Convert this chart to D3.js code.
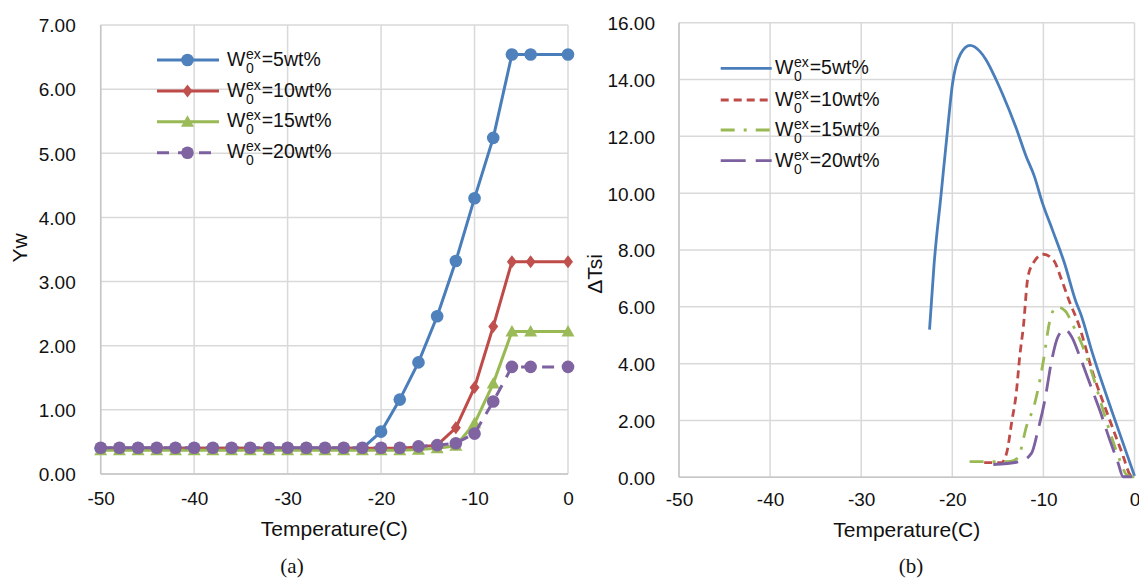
<!DOCTYPE html>
<html>
<head>
<meta charset="utf-8">
<script src="https://cdn.jsdelivr.net/npm/d3@7/dist/d3.min.js"></script>
<style>
    body { margin: 0; background: #fff; }
    svg text { font-family: "Liberation Sans", Arial, sans-serif; fill: #111; }
    .tick-label { font-size: 19px; }
    .axis-title { font-size: 21px; }
    .legend-text { font-size: 19.5px; }
    .legend-small { font-size: 14px; }
    .caption { font-family: "Liberation Serif", "Times New Roman", serif !important; font-size: 21px; }
</style>
</head>
<body>
<div id="chart"></div>
<script>

// ---------- shared axis data ----------
const xTicks = [-50, -40, -30, -20, -10, 0];
const xTickLabels = ["-50", "-40", "-30", "-20", "-10", "0"];

// ---------- panel (a): Yw ----------
const tempA = [-50, -48, -46, -44, -42, -40, -38, -36, -34, -32, -30, -28, -26, -24, -22,
               -20, -18, -16, -14, -12, -10, -8, -6, -4, 0];
const yw5  = [0.40, 0.40, 0.40, 0.40, 0.40, 0.40, 0.40, 0.40, 0.40, 0.40, 0.40, 0.40, 0.40, 0.40, 0.40,
              0.66, 1.16, 1.74, 2.46, 3.32, 4.30, 5.24, 6.54, 6.54, 6.54];
const yw10 = [0.40, 0.40, 0.40, 0.40, 0.40, 0.40, 0.40, 0.40, 0.40, 0.40, 0.40, 0.40, 0.40, 0.40, 0.40,
              0.40, 0.40, 0.42, 0.45, 0.72, 1.35, 2.30, 3.31, 3.31, 3.31];
const yw15 = [0.37, 0.37, 0.37, 0.37, 0.37, 0.37, 0.37, 0.37, 0.37, 0.37, 0.37, 0.37, 0.37, 0.37, 0.37,
              0.37, 0.37, 0.38, 0.40, 0.44, 0.79, 1.41, 2.22, 2.22, 2.22];
const yw20 = [0.41, 0.41, 0.41, 0.41, 0.41, 0.41, 0.41, 0.41, 0.41, 0.41, 0.41, 0.41, 0.41, 0.41, 0.41,
              0.41, 0.41, 0.43, 0.45, 0.48, 0.63, 1.13, 1.67, 1.67, 1.67];
const ywTicks = [0, 1, 2, 3, 4, 5, 6, 7];
const ywTickLabels = ["0.00", "1.00", "2.00", "3.00", "4.00", "5.00", "6.00", "7.00"];

// ---------- panel (b): delta Tsi ----------
const tsi5T  = [-22.5, -22.0, -21.25, -20.5, -20.0, -19.1, -18.05, -17.0, -16.3, -15.2, -14.5, -13.0,
                -11.9, -11.0, -10.1, -9.0, -7.7, -6.4, -5.9, -4.6, -2.4, 0];
const tsi5V  = [5.2, 7.5, 9.9, 12.3, 13.8, 14.9, 15.2, 15.0, 14.7, 14.0, 13.5, 12.3,
                11.3, 10.6, 9.65, 8.7, 7.55, 6.15, 5.75, 4.35, 2.25, 0.05];
const tsi10T = [-16.5, -14.6, -14.0, -13.5, -12.95, -12.6, -12.2, -11.7, -11.1, -10.0, -8.9, -8.0,
                -7.1, -6.2, -4.55, -2.7, -1.25, -0.5, 0];
const tsi10V = [0.52, 0.52, 0.9, 1.9, 3.05, 4.25, 5.3, 7.05, 7.55, 7.85, 7.65, 6.95,
                6.15, 5.45, 3.65, 2.0, 0.75, 0.1, 0];
const tsi15T = [-18.1, -14.0, -13.2, -12.7, -11.85, -10.95, -10.0, -9.3, -8.55, -7.6, -6.75, -5.8,
                -4.55, -3.1, -1.6, -0.9, 0];
const tsi15V = [0.55, 0.55, 0.6, 0.75, 1.8, 2.6, 4.1, 5.5, 6.0, 5.85, 5.35, 4.7,
                3.55, 2.0, 0.6, 0.1, 0];
const tsi20T = [-15.5, -12.6, -11.3, -10.6, -9.85, -9.1, -8.4, -7.65, -6.9, -6.0, -4.9, -3.8,
                -2.7, -1.8, -1.25, 0];
const tsi20V = [0.45, 0.55, 0.85, 1.65, 2.7, 4.1, 4.95, 5.2, 4.95, 4.25, 3.3, 2.35,
                1.3, 0.5, 0.02, 0.02];
const tsiTicks = [0, 2, 4, 6, 8, 10, 12, 14, 16];
const tsiTickLabels = ["0.00", "2.00", "4.00", "6.00", "8.00", "10.00", "12.00", "14.00", "16.00"];

// series names / colours
const seriesPct = ["5", "10", "15", "20"];
const lineColors = ["#4A7EBB", "#BE4B48", "#98B954", "#7D60A0"];
const fillColors = ["#4F81BD", "#C0504D", "#9BBB59", "#8064A2"];

const svg = d3.select("#chart").append("svg")
    .attr("width", 1139)
    .attr("height", 581);

class Panel {

    constructor(_svg, _cfg) {
        this.svg = _svg;
        this.cfg = _cfg;
        this.initVis();
    }

    initVis() {
        let vis = this;
        let cfg = vis.cfg;

        vis.g = vis.svg.append("g");

        vis.x = d3.scaleLinear().domain([-50, 0]).range(cfg.xRange);
        vis.y = d3.scaleLinear().domain(cfg.yDomain).range(cfg.yRange);

        // gridlines
        vis.g.append("g").selectAll("line")
            .data(cfg.yTicks)
            .join("line")
            .attr("x1", cfg.xRange[0]).attr("x2", cfg.xRange[1])
            .attr("y1", d => vis.y(d)).attr("y2", d => vis.y(d))
            .attr("stroke", "#D9D9D9")
            .attr("stroke-width", 1.5);

        vis.g.append("g").selectAll("line")
            .data(xTicks)
            .join("line")
            .attr("x1", d => vis.x(d)).attr("x2", d => vis.x(d))
            .attr("y1", cfg.yRange[0]).attr("y2", cfg.yRange[1])
            .attr("stroke", "#D9D9D9")
            .attr("stroke-width", 1.5);

        // axis lines
        vis.g.append("line")
            .attr("x1", cfg.xRange[0]).attr("x2", cfg.xRange[0])
            .attr("y1", cfg.yRange[0]).attr("y2", cfg.yRange[1])
            .attr("stroke", "#C6C6C6").attr("stroke-width", 1.5);
        vis.g.append("line")
            .attr("x1", cfg.xRange[0]).attr("x2", cfg.xRange[1])
            .attr("y1", cfg.yRange[0]).attr("y2", cfg.yRange[0])
            .attr("stroke", "#C6C6C6").attr("stroke-width", 1.5);

        // tick labels
        let yAxis = d3.axisLeft(vis.y)
            .tickValues(cfg.yTicks)
            .tickFormat((d, i) => cfg.yTickLabels[i])
            .tickSize(0)
            .tickPadding(cfg.yPad);
        vis.g.append("g")
            .attr("transform", `translate(${cfg.xRange[0]},0)`)
            .call(yAxis)
            .call(g => g.select(".domain").remove())
            .selectAll("text").attr("class", "tick-label").attr("dy", "0.36em");

        let xAxis = d3.axisBottom(vis.x)
            .tickValues(xTicks)
            .tickFormat((d, i) => xTickLabels[i])
            .tickSize(0);
        vis.g.append("g")
            .attr("transform", `translate(0,${cfg.yRange[0]})`)
            .call(xAxis)
            .call(g => g.select(".domain").remove())
            .selectAll("text").attr("class", "tick-label")
            .attr("y", cfg.xTickBase - cfg.yRange[0]).attr("dy", 0);

        // titles
        let midX = (cfg.xRange[0] + cfg.xRange[1]) / 2;
        vis.g.append("text")
            .attr("class", "axis-title")
            .attr("x", midX).attr("y", cfg.xTitleBase)
            .attr("text-anchor", "middle")
            .text("Temperature(C)");

        vis.g.append("text")
            .attr("class", "axis-title")
            .attr("transform", `translate(${cfg.yTitlePos[0]},${cfg.yTitlePos[1]}) rotate(-90)`)
            .attr("text-anchor", "middle")
            .attr("dy", "0.35em")
            .text(cfg.yTitle);

        vis.g.append("text")
            .attr("class", "caption")
            .attr("x", cfg.captionX).attr("y", 573)
            .attr("text-anchor", "middle")
            .text(cfg.caption);
    }

    // W0^ex=..wt% label with stacked sub/superscript
    legendLabel(x, y, pct) {
        let vis = this;
        let t = vis.g.append("text").attr("class", "legend-text").attr("x", x).attr("y", y).text("W");
        let wW = t.node().getComputedTextLength();
        let sup = vis.g.append("text").attr("class", "legend-small")
            .attr("x", x + wW + 0.5).attr("y", y - 7).text("ex");
        vis.g.append("text").attr("class", "legend-small")
            .attr("x", x + wW + 0.5).attr("y", y + 7).text("0");
        let wS = sup.node().getComputedTextLength();
        vis.g.append("text").attr("class", "legend-text")
            .attr("x", x + wW + wS + 1.5).attr("y", y).text("=" + pct + "wt%");
    }
}

// ---------------- panel (a) ----------------
let panelA = new Panel(svg, {
    xRange: [100.7, 568],
    yRange: [474, 25],
    yDomain: [0, 7],
    yTicks: ywTicks,
    yTickLabels: ywTickLabels,
    yPad: 25,
    xTickBase: 505,
    xTitleBase: 536,
    yTitle: "Yw",
    yTitlePos: [20, 248],
    caption: "(a)",
    captionX: 292
});

let ywSeries = [yw5, yw10, yw15, yw20];
let markerPaths = [
    null,
    "M0,-6.5L5,0L0,6.5L-5,0Z",
    "M0,-6.5L6.5,5L-6.5,5Z",
    null
];

function drawMarker(g, cx, cy, i) {
    if (markerPaths[i] === null) {
        g.append("circle").attr("cx", cx).attr("cy", cy).attr("r", 6.3)
            .attr("fill", fillColors[i]);
    } else {
        g.append("path").attr("d", markerPaths[i])
            .attr("transform", `translate(${cx},${cy})`)
            .attr("fill", fillColors[i]);
    }
}

ywSeries.forEach((vals, i) => {
    let pts = tempA.map((t, j) => [t, vals[j]]);
    let line = d3.line().x(d => panelA.x(d[0])).y(d => panelA.y(d[1]));
    panelA.g.append("path")
        .datum(pts)
        .attr("d", line)
        .attr("fill", "none")
        .attr("stroke", lineColors[i])
        .attr("stroke-width", 3)
        .attr("stroke-dasharray", i === 3 ? "12,9" : null);
    let mg = panelA.g.append("g");
    pts.forEach(p => drawMarker(mg, panelA.x(p[0]), panelA.y(p[1]), i));
});

// legend (a)
let legARows = [60, 91, 121.7, 152.7];
legARows.forEach((ly, i) => {
    panelA.g.append("line")
        .attr("x1", 157).attr("x2", 219).attr("y1", ly).attr("y2", ly)
        .attr("stroke", lineColors[i]).attr("stroke-width", 3)
        .attr("stroke-dasharray", i === 3 ? "12,9" : null);
    drawMarker(panelA.g, 187.5, ly, i);
    panelA.legendLabel(227, ly + 5.5, seriesPct[i]);
});

// ---------------- panel (b) ----------------
let panelB = new Panel(svg, {
    xRange: [679, 1134.5],
    yRange: [477.3, 22.7],
    yDomain: [0, 16],
    yTicks: tsiTicks,
    yTickLabels: tsiTickLabels,
    yPad: 24,
    xTickBase: 506,
    xTitleBase: 537,
    yTitle: "\u0394Tsi",
    yTitlePos: [595, 274],
    caption: "(b)",
    captionX: 911
});

let tsiSeries = [[tsi5T, tsi5V], [tsi10T, tsi10V], [tsi15T, tsi15V], [tsi20T, tsi20V]];
let tsiDash = [null, "8,5", "14,9,3,9", "25,10"];

tsiSeries.forEach((s, i) => {
    let pts = s[0].map((t, j) => [t, s[1][j]]);
    let line = d3.line()
        .x(d => panelB.x(d[0]))
        .y(d => panelB.y(d[1]))
        .curve(d3.curveMonotoneX);
    panelB.g.append("path")
        .datum(pts)
        .attr("d", line)
        .attr("fill", "none")
        .attr("stroke", lineColors[i])
        .attr("stroke-width", 2.8)
        .attr("stroke-dasharray", tsiDash[i]);
});

// legend (b)
let legBRows = [68.3, 100, 130, 160.7];
legBRows.forEach((ly, i) => {
    panelB.g.append("line")
        .attr("x1", 720.7).attr("x2", 771.7).attr("y1", ly).attr("y2", ly)
        .attr("stroke", lineColors[i]).attr("stroke-width", 2.8)
        .attr("stroke-dasharray", tsiDash[i]);
    panelB.legendLabel(775, ly + 6, seriesPct[i]);
});

</script>
</body>
</html>
